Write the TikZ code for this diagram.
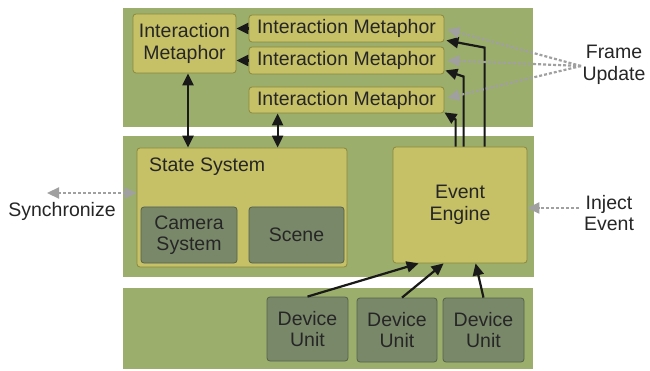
\documentclass[tikz,border=0pt]{standalone}
\usepackage{fontspec}
\setmainfont{Liberation Sans}
\usetikzlibrary{arrows.meta,calc}
\definecolor{layergreen}{RGB}{155,174,107}
\definecolor{boxyellow}{RGB}{198,192,102}
\definecolor{boxyellowb}{RGB}{140,136,60}
\definecolor{boxdark}{RGB}{122,136,106}
\definecolor{boxdarkb}{RGB}{85,98,75}
\definecolor{arrgray}{RGB}{160,160,160}
\begin{document}
\begin{tikzpicture}[x=1pt,y=-1pt,
  every node/.style={font=\fontsize{19.5}{21.5}\selectfont, inner sep=0pt, align=center, text=black!85},
  layer/.style={fill=layergreen, draw=none, minimum width=410, rectangle},
  ybox/.style={fill=boxyellow, draw=boxyellowb, line width=0.8pt, rounded corners=3pt},
  dbox/.style={fill=boxdark, draw=boxdarkb, line width=0.8pt, rounded corners=3pt},
  tip/.style={},
  blk/.style={draw=black!90, line width=2.2pt, -{Triangle[length=12pt,width=11pt]}},
  blkboth/.style={draw=black!90, line width=2.2pt, {Triangle[length=12pt,width=11pt]}-{Triangle[length=12pt,width=11pt]}},
  gry/.style={draw=arrgray, line width=2.2pt, dash pattern=on 3pt off 2pt, -{Triangle[length=12pt,width=11pt]}},
  gryboth/.style={draw=arrgray, line width=2.2pt, dash pattern=on 3pt off 2pt, {Triangle[length=12pt,width=11pt]}-{Triangle[length=12pt,width=11pt]}}
]
\useasboundingbox (0,0) rectangle (650,371);
\fill[white] (0,0) rectangle (650,371);

% layers
\node[layer, minimum height=119] (top) at (328,67.5) {};
\node[layer, minimum width=411, minimum height=141] (mid) at (328.5,206.5) {};
\node[layer, minimum height=81] (bot) at (328,328.5) {};

% top layer boxes
\node[ybox, minimum width=103, minimum height=59] (bigim) at (184.5,43.5) {Interaction\\Metaphor};
\node[ybox, minimum width=195, minimum height=27] (im1) at (346.5,28.5) {Interaction Metaphor};
\node[ybox, minimum width=195, minimum height=27] (im2) at (346.5,60.5) {Interaction Metaphor};
\node[ybox, minimum width=195, minimum height=26] (im3) at (346.5,100) {Interaction Metaphor};

% middle layer
\node[ybox, minimum width=210, minimum height=119] (state) at (242,207.5) {};
\node[anchor=west] (statelbl) at (149,167) {State System};
\node[dbox, minimum width=96, minimum height=56] (camera) at (189,235) {Camera\\System};
\node[dbox, minimum width=95, minimum height=56] (scene) at (296.5,235) {Scene};
\node[ybox, minimum width=134, minimum height=116] (engine) at (460,205) {Event\\Engine};

% bottom layer
\node[dbox, minimum width=81, minimum height=64] (du1) at (307.5,329) {Device\\Unit};
\node[dbox, minimum width=80, minimum height=64] (du2) at (397,330) {Device\\Unit};
\node[dbox, minimum width=81, minimum height=64] (du3) at (483.5,330) {Device\\Unit};

% outside labels
\node (sync) at (62,211) {Synchronize};
\node (inject) at (609,213) {Inject\\Event};
\node (frame) at (614,65) {Frame\\Update};
\coordinate (syncend) at (47,193);
\coordinate (injstart) at (579,208);
\coordinate (frstart) at (581,66);
\coordinate (bigd) at ($(bigim.south)+(3.5,0)$);
\coordinate (imd) at ($(im3.south west)+(29,0)$);

% arrows to big metaphor
\draw[blk] (im1.west) -- (im1.west -| bigim.east);
\draw[blk] (im2.west) -- (im2.west -| bigim.east);

% double arrows
\draw[blkboth] (bigd) -- (bigd |- state.north);
\draw[blkboth] (imd) -- (imd |- state.north);

% event engine to metaphors
\draw[blk] ($(engine.north west)+(63,0)$) -- ++(0,-27) -- ($(im3.south east)+(0,-1)$);
\draw[blk] ($(engine.north west)+(71,0)$) -- ++(0,-70) -- ($(im2.south east)+(1,-4)$);
\draw[blk] ($(engine.north west)+(92,0)$) -- ++(0,-99) -- ($(im1.south east)+(2,-2)$);

% devices to engine
\draw[blk] (du1.north) -- ($(engine.south west)+(26,0)$);
\draw[blk] ($(du2.north)+(5,0)$) -- ($(engine.south west)+(51,0)$);
\draw[blk] (du3.north) -- ($(engine.south west)+(83,0)$);

% gray dashed arrows
\draw[gryboth] (syncend) -- (syncend -| state.west);
\draw[gry] (injstart) -- (injstart -| engine.east);
\draw[gry] (frstart) -- ($(im1.east)+(3,1)$);
\draw[gry] (frstart) -- ($(im2.east)+(3,0)$);
\draw[gry] (frstart) -- ($(im3.east)+(3,-2)$);
\end{tikzpicture}
\end{document}
